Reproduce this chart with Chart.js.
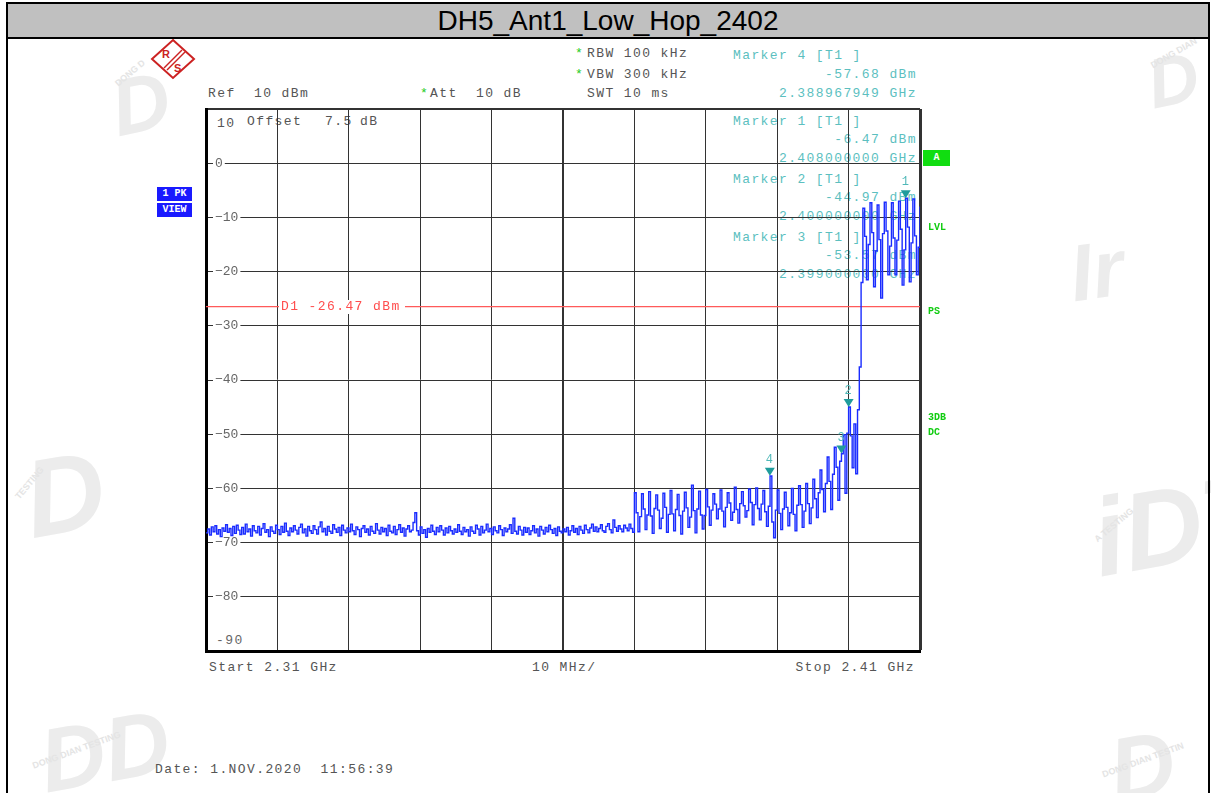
<!DOCTYPE html>
<html>
<head>
<meta charset="utf-8">
<title>DH5_Ant1_Low_Hop_2402</title>
<script src="https://cdn.jsdelivr.net/npm/chart.js@4.4.0/dist/chart.umd.min.js"></script>
<style>
  body { margin: 0; background: #fff; }
  #page { position: relative; width: 1211px; height: 793px; overflow: hidden; font-family: "Liberation Mono", monospace; }
  .bar { position: absolute; left: 6px; top: 2px; width: 1204px; height: 33px; background: #c0c0c0; border-top: 2px solid #000; border-bottom: 2px solid #000; z-index: 3; }
  .bar span { display: block; text-align: center; font-family: "Liberation Sans", Arial, sans-serif; font-size: 28px; line-height: 33px; color: #000; }
  .vline { position: absolute; top: 2px; width: 2px; height: 791px; background: #000; z-index: 3; }
  .t { position: absolute; font-size: 13px; line-height: 14px; letter-spacing: 1.4px; white-space: pre; color: #555; }
  .teal { color: #5cbfbf; }
  .star { color: #22cc22; letter-spacing: 0; }
  .back { z-index: 0; }
  #myChart { position: absolute; left: 0; top: 0; z-index: 1; }
  .front { position: absolute; z-index: 2; white-space: pre; }
  .badge { position: absolute; z-index: 2; font-family: "Liberation Mono", monospace; font-weight: bold; font-size: 10px; line-height: 14px; color: #fff; text-align: center; }
  .green { position: absolute; z-index: 2; font-family: "Liberation Mono", monospace; font-weight: bold; font-size: 10px; line-height: 12px; color: #11cc11; }
  .mnum { position: absolute; z-index: 2; font-size: 12px; line-height: 12px; color: #4fb8b8; }
  .wm { position: absolute; z-index: 0; font-family: "Liberation Sans", Arial, sans-serif; font-weight: bold; font-style: italic; color: #ececec; white-space: pre; }
  .wms { position: absolute; z-index: 0; font-family: "Liberation Sans", Arial, sans-serif; font-weight: bold; font-size: 9px; color: #e4e4e4; white-space: pre; }
</style>
</head>
<body>
<div id="page">
  <div class="bar"><span>DH5_Ant1_Low_Hop_2402</span></div>
  <div class="vline" style="left:6px"></div>
  <div class="vline" style="left:1208px"></div>

  <!-- faint lab watermarks -->
  <div class="wm" style="left:112px;top:58px;font-size:80px;transform:rotate(-12deg)">D</div>
  <div class="wms" style="left:112px;top:68px;transform:rotate(-40deg)">DONG D</div>
  <div class="wm" style="left:1148px;top:40px;font-size:70px;transform:rotate(-12deg)">D</div>
  <div class="wms" style="left:1148px;top:48px;transform:rotate(-30deg)">DONG DIAN</div>
  <div class="wm" style="left:1070px;top:225px;font-size:80px;transform:rotate(-8deg)">Ir</div>
  <div class="wm" style="left:25px;top:430px;font-size:110px;transform:rotate(-10deg)">D</div>
  <div class="wms" style="left:10px;top:478px;transform:rotate(-50deg)">TESTING</div>
  <div class="wm" style="left:1092px;top:460px;font-size:110px;transform:rotate(-10deg)">iDT</div>
  <div class="wms" style="left:1090px;top:520px;transform:rotate(-40deg)">A TESTING</div>
  <div class="wm" style="left:40px;top:700px;font-size:90px;transform:rotate(-10deg)">DD</div>
  <div class="wms" style="left:30px;top:745px;transform:rotate(-20deg)">DONG DIAN TESTING</div>
  <div class="wm" style="left:1110px;top:715px;font-size:90px;transform:rotate(-10deg)">D</div>
  <div class="wms" style="left:1100px;top:755px;transform:rotate(-20deg)">DONG DIAN TESTIN</div>

  <svg style="position:absolute;left:150px;top:38px" width="46" height="42">
    <polygon points="23,2 44,21 23,40 2,21" fill="none" stroke="#cc2222" stroke-width="2"/>
    <line x1="14" y1="30" x2="32" y2="12" stroke="#cc2222" stroke-width="1.5"/>
    <line x1="17" y1="32" x2="35" y2="14" stroke="#cc2222" stroke-width="1.5"/>
    <text x="12" y="20" font-family="Liberation Sans" font-weight="bold" font-size="11" fill="#cc2222">R</text>
    <text x="24" y="34" font-family="Liberation Sans" font-weight="bold" font-size="11" fill="#cc2222">S</text>
  </svg>

  <div class="t back" style="left:208px;top:87px">Ref  10 dBm</div>
  <div class="t back star" style="left:420px;top:87px">*</div>
  <div class="t back" style="left:430px;top:87px">Att  10 dB</div>
  <div class="t back star" style="left:575px;top:47px">*</div>
  <div class="t back" style="left:587px;top:47px">RBW 100 kHz</div>
  <div class="t back star" style="left:575px;top:68px">*</div>
  <div class="t back" style="left:587px;top:68px">VBW 300 kHz</div>
  <div class="t back" style="left:587px;top:87px">SWT 10 ms</div>

  <div class="t back teal" style="left:733px;top:49px">Marker 4 [T1 ]</div>
  <div class="t back teal" style="right:294px;top:68px">-57.68 dBm</div>
  <div class="t back teal" style="right:294px;top:87px">2.388967949 GHz</div>
  <div class="t back teal" style="left:733px;top:115px">Marker 1 [T1 ]</div>
  <div class="t back teal" style="right:294px;top:133px">-6.47 dBm</div>
  <div class="t back teal" style="right:294px;top:152px">2.408000000 GHz</div>
  <div class="t back teal" style="left:733px;top:173px">Marker 2 [T1 ]</div>
  <div class="t back teal" style="right:294px;top:191px">-44.97 dBm</div>
  <div class="t back teal" style="right:294px;top:210px">2.400000000 GHz</div>
  <div class="t back teal" style="left:733px;top:231px">Marker 3 [T1 ]</div>
  <div class="t back teal" style="right:294px;top:249px">-53.57 dBm</div>
  <div class="t back teal" style="right:294px;top:268px">2.399000000 GHz</div>

  <div class="t back" style="left:217px;top:117px">10</div>
  <div class="t back" style="left:247px;top:115px">Offset</div>
  <div class="t back" style="left:325px;top:115px">7.5</div>
  <div class="t back" style="left:360px;top:115px">dB</div>
  <div class="t back" style="left:216px;top:634px;color:#666">-90</div>

  <div class="t back" style="left:209px;top:661px">Start 2.31 GHz</div>
  <div class="t back" style="left:532px;top:661px">10 MHz/</div>
  <div class="t back" style="right:296px;top:661px">Stop 2.41 GHz</div>
  <div class="t back" style="left:155px;top:763px">Date: 1.NOV.2020  11:56:39</div>

  <div class="badge" style="left:157px;top:187px;width:35px;background:#1a1aff">1 PK</div>
  <div class="badge" style="left:157px;top:203px;width:35px;background:#1a1aff">VIEW</div>
  <div class="badge" style="left:923px;top:150px;width:27px;height:16px;line-height:16px;background:#11dd11">A</div>
  <div class="green" style="left:928px;top:222px">LVL</div>
  <div class="green" style="left:928px;top:306px">PS</div>
  <div class="green" style="left:928px;top:412px">3DB</div>
  <div class="green" style="left:928px;top:427px">DC</div>

  <div id="d1label" class="t front" style="left:279px;top:300px;color:#ff4d4d;background:#fff;padding:0 4px 0 2px">D1 -26.47 dBm</div>

  <canvas id="myChart" width="1211" height="793"></canvas>
</div>
<script>
const startMHz = 2310;
const stopMHz = 2410;
const stepMHz = 0.25;

// peak trace, one value every 0.25 MHz from 2310 MHz to 2410 MHz (dBm)
const traceLevels = [
  // 2310
  -68.2, -67.5, -68.6, -67.1, -68.0, -66.9, -68.4, -67.6, -68.9, -67.3, -67.9, -66.7, -68.1, -67.4, -68.7, -67.0, -68.3, -66.8, -67.7, -68.5,
  // 2315
  -67.2, -68.4, -66.6, -68.0, -67.5, -68.8, -66.9, -67.8, -68.2, -67.0, -68.6, -67.4, -66.5, -68.1, -67.6, -68.9, -67.1, -67.9, -68.3, -66.8,
  // 2320
  -67.6, -68.5, -67.0, -68.1, -66.4, -67.9, -68.7, -67.3, -68.0, -66.9, -67.7, -68.4, -67.2, -66.6, -68.2, -67.5, -68.8, -67.0, -67.8, -68.3,
  // 2325
  -66.9, -67.6, -68.4, -67.1, -66.2, -68.0, -67.4, -68.6, -67.0, -67.9, -68.3, -66.7, -67.5, -68.1, -67.2, -68.7, -66.8, -67.7, -68.2, -67.3,
  // 2330
  -68.0, -66.6, -67.8, -68.5, -67.1, -67.6, -68.9, -67.4, -66.9, -68.1, -67.5, -68.6, -67.0, -67.9, -68.3, -66.5, -67.7, -68.4, -67.2, -68.0,
  // 2335
  -67.4, -68.7, -66.8, -67.9, -68.2, -67.0, -68.5, -67.6, -66.7, -68.1, -67.3, -68.8, -67.5, -66.9, -68.0, -67.7, -66.3, -64.5, -67.8, -68.6,
  // 2340
  -67.1, -68.3, -67.6, -69.0, -67.4, -68.1, -66.8, -67.9, -68.5, -67.2, -68.0, -66.9, -67.7, -68.6, -67.3, -68.2, -67.0, -67.8, -68.4, -67.5,
  // 2345
  -68.1, -66.7, -67.9, -68.5, -67.2, -68.0, -67.6, -68.8, -67.1, -67.9, -68.3, -66.8, -67.5, -68.6, -67.0, -68.2, -67.7, -66.6, -68.0, -67.4,
  // 2350
  -68.5, -67.1, -67.8, -68.2, -66.9, -67.6, -68.7, -67.3, -68.0, -67.5, -66.7, -68.3, -65.5, -67.9, -68.4, -67.0, -67.7, -68.6, -67.2, -68.1,
  // 2355
  -67.3, -68.5, -67.8, -66.9, -68.2, -67.5, -68.8, -67.0, -67.7, -68.4, -67.2, -68.0, -66.8, -67.6, -68.3, -67.4, -68.7, -67.1, -67.9, -68.2,
  // 2360
  -67.5, -68.0, -67.2, -68.6, -67.8, -66.9, -68.1, -67.4, -68.5, -67.0, -67.7, -68.3, -66.8, -67.6, -68.2, -67.3, -66.6, -67.9, -67.1, -68.0,
  // 2365
  -67.4, -66.7, -67.8, -68.1, -67.0, -66.5, -67.6, -68.2, -65.8, -67.2, -67.9, -66.9, -67.5, -68.0, -66.8, -67.3, -67.8, -66.6, -67.4, -68.1,
  // 2370
  -60.8, -64.5, -68.0, -65.2, -61.0, -63.8, -67.6, -64.9, -60.6, -65.1, -68.3, -63.7, -61.2, -64.0, -67.4, -65.5, -60.9, -63.5, -68.1, -64.8,
  // 2375
  -60.4, -64.7, -67.8, -63.9, -61.1, -65.0, -68.4, -64.2, -60.7, -63.6, -67.2, -65.3, -59.4, -64.1, -68.2, -63.8, -60.5, -64.9, -67.5, -65.0,
  // 2380
  -60.2, -63.4, -66.8, -64.0, -61.0, -62.9, -65.6, -63.8, -60.3, -64.2, -67.1, -63.5, -60.8, -62.7, -65.9, -64.4, -59.8, -63.9, -66.4, -62.8,
  // 2385
  -60.6, -63.2, -65.3, -64.1, -60.1, -62.6, -66.7, -63.0, -59.9, -63.7, -65.8, -62.9, -60.4, -64.3, -67.0, -63.3, -57.7, -66.2, -69.1, -64.0,
  // 2390
  -60.3, -64.6, -67.6, -63.8, -60.7, -63.5, -66.9, -64.5, -60.0, -64.8, -67.8, -63.1, -59.5, -63.0, -67.2, -64.2, -59.1, -62.8, -66.5, -63.6,
  // 2395
  -58.3, -61.9, -65.4, -60.8, -56.6, -60.2, -64.3, -59.1, -54.2, -58.7, -63.9, -57.4, -52.4, -56.1, -62.2, -55.0, -53.6, -50.1, -60.9, -49.8,
  // 2400
  -44.97, -50.3, -56.2, -48.1, -57.3, -45.5, -37.6, -22.0, -8.3, -13.5, -21.5, -15.0, -7.3, -12.8, -22.8, -16.2, -7.7, -14.1, -24.9, -13.0,
  // 2405
  -7.2, -12.5, -20.6, -15.3, -7.3, -13.8, -20.6, -14.2, -7.0, -12.2, -22.5, -16.0, -6.47, -11.8, -21.9, -14.7, -6.6, -13.4, -20.6, -15.5,
  // 2410
  -8.0
];

const markerNames = ["1", "2", "3", "4"];
const markerFreqs = [2408.0, 2400.0, 2399.0, 2388.967949];
const markerLevels = [-6.47, -44.97, -53.57, -57.68];
const displayLine = -26.47;

const tracePoints = traceLevels.map((v, i) => ({ x: startMHz + i * stepMHz, y: v }));

const markerPlugin = {
  id: "markers",
  afterDatasetsDraw(chart) {
    const { ctx } = chart;
    const x = chart.scales.x;
    const y = chart.scales.y;
    ctx.save();
    ctx.fillStyle = "#1f9c9c";
    for (let i = 0; i < markerFreqs.length; i++) {
      const px = x.getPixelForValue(markerFreqs[i]);
      const py = y.getPixelForValue(markerLevels[i]);
      ctx.beginPath();
      ctx.moveTo(px, py);
      ctx.lineTo(px - 5, py - 8);
      ctx.lineTo(px + 5, py - 8);
      ctx.closePath();
      ctx.fill();
    }
    ctx.restore();
  },
  afterRender(chart) {
    const x = chart.scales.x;
    const y = chart.scales.y;
    const page = document.getElementById("page");
    for (let i = 0; i < markerNames.length; i++) {
      let el = document.getElementById("mnum" + i);
      if (!el) {
        el = document.createElement("div");
        el.id = "mnum" + i;
        el.className = "mnum";
        el.textContent = markerNames[i];
        page.appendChild(el);
      }
      el.style.left = x.getPixelForValue(markerFreqs[i]) - 4 + "px";
      el.style.top = y.getPixelForValue(markerLevels[i]) - 22 + "px";
    }
    const d1 = document.getElementById("d1label");
    d1.style.top = y.getPixelForValue(displayLine) - 7 + "px";
  },
};

const ctx = document.getElementById("myChart");

new Chart(ctx, {
  type: "line",
  data: {
    datasets: [
      {
        label: "Trace 1",
        data: tracePoints,
        borderColor: "#1a2cff",
        borderWidth: 1.4,
        pointRadius: 0,
        stepped: true,
      },
      {
        label: "D1",
        data: [
          { x: startMHz, y: displayLine },
          { x: stopMHz, y: displayLine },
        ],
        borderColor: "#ff5a5a",
        borderWidth: 1.3,
        pointRadius: 0,
      },
    ],
  },
  options: {
    responsive: false,
    animation: false,
    devicePixelRatio: 1,
    layout: { padding: { left: 188, top: 109, right: 291, bottom: 142 } },
    plugins: { legend: { display: false }, tooltip: { enabled: false } },
    scales: {
      x: {
        type: "linear",
        min: startMHz,
        max: stopMHz,
        ticks: { stepSize: 10, display: false },
        grid: {
          color: "#333",
          drawTicks: false,
          lineWidth: (c) => (c.tick && c.tick.value === 2360 ? 2 : c.tick && c.tick.value === stopMHz ? 3 : 1),
        },
        border: { color: "#000", width: 3 },
      },
      y: {
        min: -90,
        max: 10,
        ticks: {
          stepSize: 10,
          mirror: true,
          padding: 9,
          color: "#666",
          font: { family: "Liberation Mono", size: 13 },
          showLabelBackdrop: (c) => c.tick && c.tick.value !== 10 && c.tick.value !== -90,
          backdropColor: "#fff",
          backdropPadding: 2,
          callback: (v) => (v === 10 || v === -90 ? "" : String(v).replace("-", "\u2212")),
        },
        grid: {
          color: "#333",
          drawTicks: false,
          lineWidth: (c) => (c.tick && c.tick.value === 10 ? 2 : 1),
        },
        border: { color: "#000", width: 3 },
      },
    },
  },
  plugins: [markerPlugin],
});
</script>
</body>
</html>
